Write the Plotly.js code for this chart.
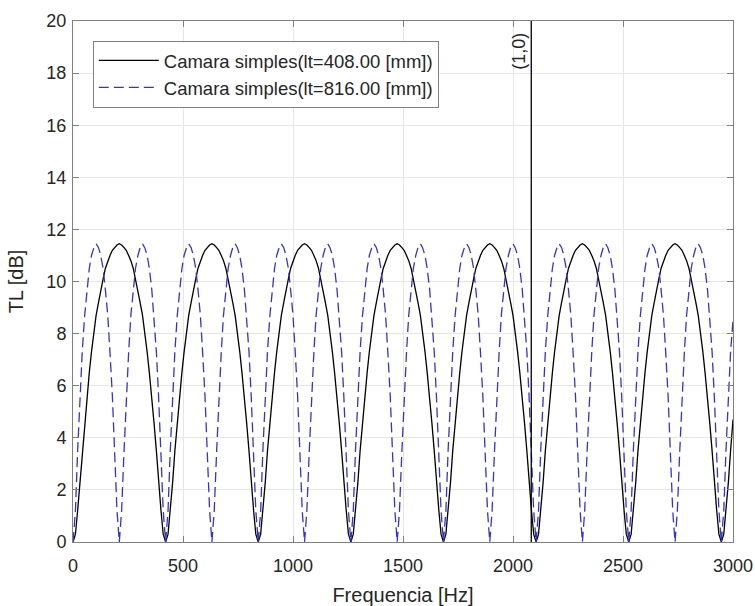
<!DOCTYPE html>
<html>
<head>
<meta charset="utf-8">
<script src="https://cdn.plot.ly/plotly-3.0.1.min.js"></script>
<style>html,body{margin:0;padding:0;background:#fff;}#chart{width:755px;height:606px;}</style>
</head>
<body>
<div id="chart"></div>
<script>
// Frequency samples [Hz]
var freq = [
0, 11, 21, 32, 42, 53, 63, 74, 84, 95, 105, 116, 126, 137, 147, 158, 168, 179, 189, 200, 210.5, 221, 232, 242, 253, 263, 274, 284, 295, 305, 316, 326, 337, 347, 358, 368, 379, 389, 400, 410,
421, 432, 442, 453, 463, 474, 484, 495, 505, 516, 526, 537, 547, 558, 568, 579, 589, 600, 610, 621, 631.5, 642, 653, 663, 674, 684, 695, 705, 716, 726, 737, 747, 758, 768, 779, 789, 800, 810, 821, 831,
842, 853, 863, 874, 884, 895, 905, 916, 926, 937, 947, 958, 968, 979, 989, 1000, 1010, 1021, 1031, 1042, 1052.5, 1063, 1074, 1084, 1095, 1105, 1116, 1126, 1137, 1147, 1158, 1168, 1179, 1189, 1200, 1210, 1221, 1231, 1242, 1252,
1263, 1274, 1284, 1295, 1305, 1316, 1326, 1337, 1347, 1358, 1368, 1379, 1389, 1400, 1410, 1421, 1431, 1442, 1452, 1463, 1473.5, 1484, 1495, 1505, 1516, 1526, 1537, 1547, 1558, 1568, 1579, 1589, 1600, 1610, 1621, 1631, 1642, 1652, 1663, 1673,
1684, 1695, 1705, 1716, 1726, 1737, 1747, 1758, 1768, 1779, 1789, 1800, 1810, 1821, 1831, 1842, 1852, 1863, 1873, 1884, 1894.5, 1905, 1916, 1926, 1937, 1947, 1958, 1968, 1979, 1989, 2000, 2010, 2021, 2031, 2042, 2052, 2063, 2073, 2084, 2094,
2105, 2116, 2126, 2137, 2147, 2158, 2168, 2179, 2189, 2200, 2210, 2221, 2231, 2242, 2252, 2263, 2273, 2284, 2294, 2305, 2315.5, 2326, 2337, 2347, 2358, 2368, 2379, 2389, 2400, 2410, 2421, 2431, 2442, 2452, 2463, 2473, 2484, 2494, 2505, 2515,
2526, 2537, 2547, 2558, 2568, 2579, 2589, 2600, 2610, 2621, 2631, 2642, 2652, 2663, 2673, 2684, 2694, 2705, 2715, 2726, 2736.5, 2747, 2758, 2768, 2779, 2789, 2800, 2810, 2821, 2831, 2842, 2852, 2863, 2873, 2884, 2894, 2905, 2915, 2926, 2936,
2947, 2958, 2968, 2979, 2989, 3000
];

// TL [dB], chamber lt = 408 mm (solid black)
var tlShort = [
0, 0.3, 1.2, 2.3, 3.5, 4.6, 5.6, 6.5, 7.3, 8.1, 8.7, 9.2, 9.7, 10.1, 10.5, 10.8, 11.0, 11.2, 11.3, 11.4, 11.45, 11.4, 11.3, 11.2, 11.0, 10.8, 10.5, 10.1, 9.7, 9.2, 8.7, 8.1, 7.3, 6.5, 5.6, 4.6, 3.5, 2.3, 1.2, 0.3,
0, 0.3, 1.2, 2.3, 3.5, 4.6, 5.6, 6.5, 7.3, 8.1, 8.7, 9.2, 9.7, 10.1, 10.5, 10.8, 11.0, 11.2, 11.3, 11.4, 11.45, 11.4, 11.3, 11.2, 11.0, 10.8, 10.5, 10.1, 9.7, 9.2, 8.7, 8.1, 7.3, 6.5, 5.6, 4.6, 3.5, 2.3, 1.2, 0.3,
0, 0.3, 1.2, 2.3, 3.5, 4.6, 5.6, 6.5, 7.3, 8.1, 8.7, 9.2, 9.7, 10.1, 10.5, 10.8, 11.0, 11.2, 11.3, 11.4, 11.45, 11.4, 11.3, 11.2, 11.0, 10.8, 10.5, 10.1, 9.7, 9.2, 8.7, 8.1, 7.3, 6.5, 5.6, 4.6, 3.5, 2.3, 1.2, 0.3,
0, 0.3, 1.2, 2.3, 3.5, 4.6, 5.6, 6.5, 7.3, 8.1, 8.7, 9.2, 9.7, 10.1, 10.5, 10.8, 11.0, 11.2, 11.3, 11.4, 11.45, 11.4, 11.3, 11.2, 11.0, 10.8, 10.5, 10.1, 9.7, 9.2, 8.7, 8.1, 7.3, 6.5, 5.6, 4.6, 3.5, 2.3, 1.2, 0.3,
0, 0.3, 1.2, 2.3, 3.5, 4.6, 5.6, 6.5, 7.3, 8.1, 8.7, 9.2, 9.7, 10.1, 10.5, 10.8, 11.0, 11.2, 11.3, 11.4, 11.45, 11.4, 11.3, 11.2, 11.0, 10.8, 10.5, 10.1, 9.7, 9.2, 8.7, 8.1, 7.3, 6.5, 5.6, 4.6, 3.5, 2.3, 1.2, 0.3,
0, 0.3, 1.2, 2.3, 3.5, 4.6, 5.6, 6.5, 7.3, 8.1, 8.7, 9.2, 9.7, 10.1, 10.5, 10.8, 11.0, 11.2, 11.3, 11.4, 11.45, 11.4, 11.3, 11.2, 11.0, 10.8, 10.5, 10.1, 9.7, 9.2, 8.7, 8.1, 7.3, 6.5, 5.6, 4.6, 3.5, 2.3, 1.2, 0.3,
0, 0.3, 1.2, 2.3, 3.5, 4.6, 5.6, 6.5, 7.3, 8.1, 8.7, 9.2, 9.7, 10.1, 10.5, 10.8, 11.0, 11.2, 11.3, 11.4, 11.45, 11.4, 11.3, 11.2, 11.0, 10.8, 10.5, 10.1, 9.7, 9.2, 8.7, 8.1, 7.3, 6.5, 5.6, 4.6, 3.5, 2.3, 1.2, 0.3,
0, 0.3, 1.2, 2.3, 3.5, 4.7
];

// TL [dB], chamber lt = 816 mm (dashed blue)
var tlLong = [
0, 1.2, 3.5, 5.6, 7.3, 8.7, 9.7, 10.5, 11.0, 11.3, 11.45, 11.3, 11.0, 10.5, 9.7, 8.7, 7.3, 5.6, 3.5, 1.2, 0, 1.2, 3.5, 5.6, 7.3, 8.7, 9.7, 10.5, 11.0, 11.3, 11.45, 11.3, 11.0, 10.5, 9.7, 8.7, 7.3, 5.6, 3.5, 1.2,
0, 1.2, 3.5, 5.6, 7.3, 8.7, 9.7, 10.5, 11.0, 11.3, 11.45, 11.3, 11.0, 10.5, 9.7, 8.7, 7.3, 5.6, 3.5, 1.2, 0, 1.2, 3.5, 5.6, 7.3, 8.7, 9.7, 10.5, 11.0, 11.3, 11.45, 11.3, 11.0, 10.5, 9.7, 8.7, 7.3, 5.6, 3.5, 1.2,
0, 1.2, 3.5, 5.6, 7.3, 8.7, 9.7, 10.5, 11.0, 11.3, 11.45, 11.3, 11.0, 10.5, 9.7, 8.7, 7.3, 5.6, 3.5, 1.2, 0, 1.2, 3.5, 5.6, 7.3, 8.7, 9.7, 10.5, 11.0, 11.3, 11.45, 11.3, 11.0, 10.5, 9.7, 8.7, 7.3, 5.6, 3.5, 1.2,
0, 1.2, 3.5, 5.6, 7.3, 8.7, 9.7, 10.5, 11.0, 11.3, 11.45, 11.3, 11.0, 10.5, 9.7, 8.7, 7.3, 5.6, 3.5, 1.2, 0, 1.2, 3.5, 5.6, 7.3, 8.7, 9.7, 10.5, 11.0, 11.3, 11.45, 11.3, 11.0, 10.5, 9.7, 8.7, 7.3, 5.6, 3.5, 1.2,
0, 1.2, 3.5, 5.6, 7.3, 8.7, 9.7, 10.5, 11.0, 11.3, 11.45, 11.3, 11.0, 10.5, 9.7, 8.7, 7.3, 5.6, 3.5, 1.2, 0, 1.2, 3.5, 5.6, 7.3, 8.7, 9.7, 10.5, 11.0, 11.3, 11.45, 11.3, 11.0, 10.5, 9.7, 8.7, 7.3, 5.6, 3.5, 1.2,
0, 1.2, 3.5, 5.6, 7.3, 8.7, 9.7, 10.5, 11.0, 11.3, 11.45, 11.3, 11.0, 10.5, 9.7, 8.7, 7.3, 5.6, 3.5, 1.2, 0, 1.2, 3.5, 5.6, 7.3, 8.7, 9.7, 10.5, 11.0, 11.3, 11.45, 11.3, 11.0, 10.5, 9.7, 8.7, 7.3, 5.6, 3.5, 1.2,
0, 1.2, 3.5, 5.6, 7.3, 8.7, 9.7, 10.5, 11.0, 11.3, 11.45, 11.3, 11.0, 10.5, 9.7, 8.7, 7.3, 5.6, 3.5, 1.2, 0, 1.2, 3.5, 5.6, 7.3, 8.7, 9.7, 10.5, 11.0, 11.3, 11.45, 11.3, 11.0, 10.5, 9.7, 8.7, 7.3, 5.6, 3.5, 1.2,
0, 1.2, 3.5, 5.6, 7.3, 8.5
];

var seriesNames = ["Camara simples(lt=408.00 [mm])", "Camara simples(lt=816.00 [mm])"];

// Cut-on of first transverse mode (1,0)
var modeFreq = [2083, 2083];
var modeTL = [0, 20];
var modeLabel = "(1,0)";

var xTicks = [0, 500, 1000, 1500, 2000, 2500, 3000];
var yTicks = [0, 2, 4, 6, 8, 10, 12, 14, 16, 18, 20];

var FONT = '"Liberation Sans", Arial, Helvetica, sans-serif';
var TXT = '#262626';

var traces = [
  {x: freq, y: tlShort, type: 'scatter', mode: 'lines', name: seriesNames[0],
   line: {color: '#000000', width: 1.3}},
  {x: freq, y: tlLong, type: 'scatter', mode: 'lines', name: seriesNames[1],
   line: {color: '#3434cc', width: 1.3, dash: '10px,5px'}},
  {x: modeFreq, y: modeTL, type: 'scatter', mode: 'lines', showlegend: false,
   line: {color: '#000000', width: 1.3}}
];

var axisCommon = {
  showline: true, linecolor: '#808080', linewidth: 1, mirror: 'ticks',
  ticks: 'inside', ticklen: 6, tickcolor: '#808080', tickwidth: 1,
  showgrid: true, gridcolor: '#e6e6e6', gridwidth: 1, zeroline: false,
  tickfont: {family: FONT, size: 18, color: TXT}, automargin: false
};

var layout = {
  width: 755, height: 606,
  margin: {l: 73, r: 22, t: 21, b: 64},
  paper_bgcolor: '#ffffff', plot_bgcolor: '#ffffff',
  font: {family: FONT, color: TXT},
  xaxis: Object.assign({}, axisCommon, {
    range: [0, 3000], tickvals: xTicks, ticktext: xTicks.map(String),
    ticklabelstandoff: 7,
    title: {text: 'Frequencia [Hz]', font: {family: FONT, size: 20, color: TXT}}
  }),
  yaxis: Object.assign({}, axisCommon, {
    range: [0, 20], tickvals: yTicks, ticktext: yTicks.map(String),
    ticklabelstandoff: 2,
    title: {text: 'TL [dB]', font: {family: FONT, size: 20, color: TXT}}
  }),
  showlegend: true,
  legend: {
    x: 0.03, y: 0.962, xanchor: 'left', yanchor: 'top',
    bgcolor: '#ffffff', bordercolor: '#808080', borderwidth: 1,
    font: {family: FONT, size: 18.5, color: TXT},
    itemwidth: 60, tracegroupgap: 0
  },
  annotations: [{
    x: modeFreq[0], y: modeTL[1], xref: 'x', yref: 'y',
    text: modeLabel, textangle: -90, showarrow: false,
    xanchor: 'right', yanchor: 'top', xshift: -1, yshift: -10,
    font: {family: FONT, size: 18, color: TXT}
  }]
};

Plotly.newPlot('chart', traces, layout, {displayModeBar: false, staticPlot: true});
</script>
</body>
</html>
